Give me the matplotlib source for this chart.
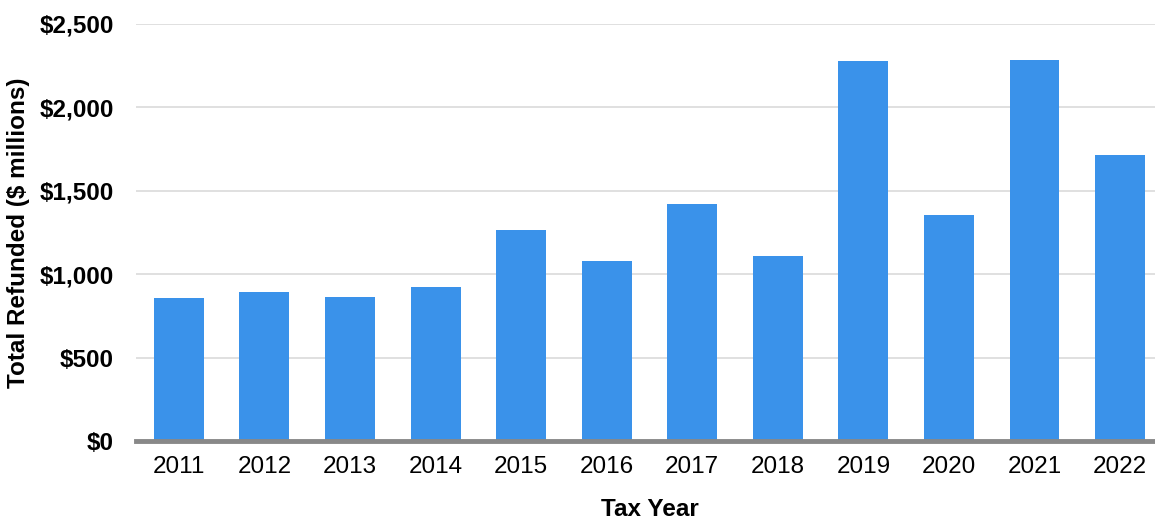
import matplotlib.pyplot as plt
from matplotlib.ticker import FuncFormatter

plt.rcParams['font.family'] = ['Liberation Sans', 'DejaVu Sans']

# tax years and total refunded ($ millions)
years = ['2011', '2012', '2013', '2014', '2015', '2016',
         '2017', '2018', '2019', '2020', '2021', '2022']
refunded = [857, 893, 863, 923, 1265, 1079, 1421, 1109, 2278, 1355, 2284, 1715]
yticks = [0, 500, 1000, 1500, 2000, 2500]

fig = plt.figure(figsize=(11.55, 5.21), dpi=100)
ax = fig.add_axes([0.1178, 0.1536, 0.889, 0.8004])

x = range(len(years))
ax.bar(x, refunded, width=0.584, color='#3a92ea', zorder=2)

ax.set_xlim(-0.5, len(years) - 0.5)
ax.set_ylim(0, 2500)
ax.set_yticks(yticks)
ax.yaxis.set_major_formatter(FuncFormatter(lambda v, p: '${:,.0f}'.format(v)))
ax.set_xticks(list(x))
ax.set_xticklabels(years)

ax.grid(axis='y', color='#dddddd', linewidth=1.3, zorder=0)
for s in ['top', 'right', 'left']:
    ax.spines[s].set_visible(False)
ax.spines['bottom'].set_color('#888888')
ax.spines['bottom'].set_linewidth(3.5)
ax.spines['bottom'].set_zorder(3)
ax.tick_params(length=0)
ax.tick_params(axis='x', labelsize=17.5, pad=11)
ax.tick_params(axis='y', labelsize=17.5, pad=16)
for lab in ax.get_yticklabels():
    lab.set_fontweight('bold')

ax.set_xlabel('Tax Year', fontsize=17.5, fontweight='bold', labelpad=14)
ax.set_ylabel('Total Refunded ($ millions)', fontsize=17.5, fontweight='bold')
ax.yaxis.set_label_coords(-0.103, 0.5)

fig.savefig('out.png', dpi=100)
